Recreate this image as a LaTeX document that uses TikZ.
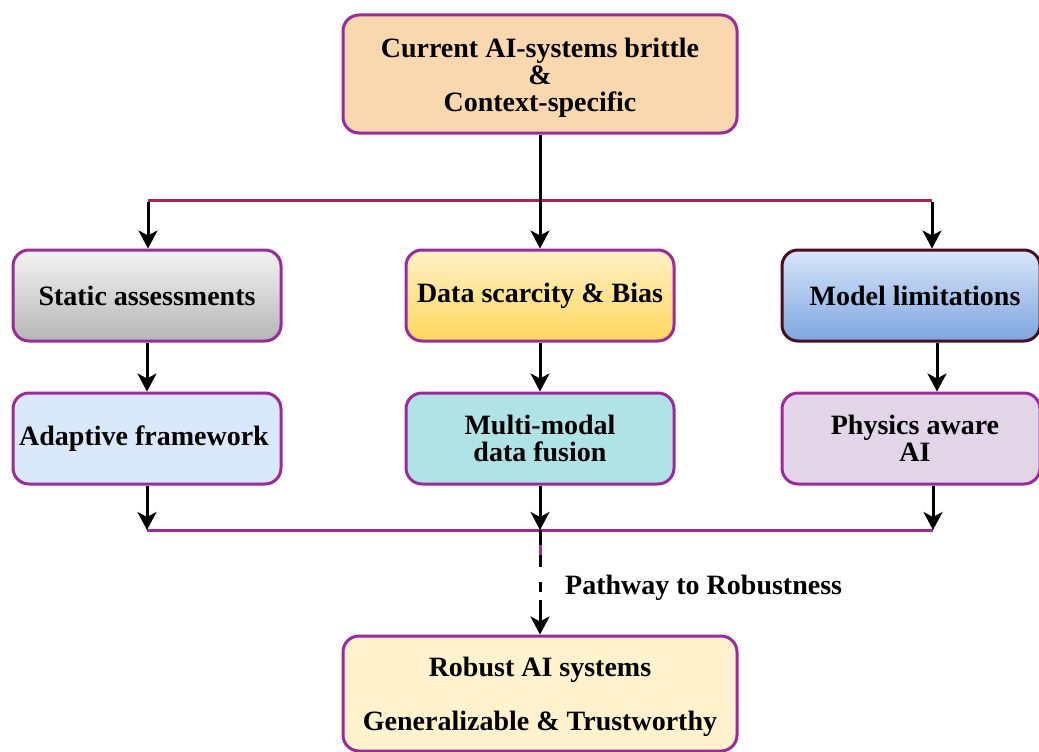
\documentclass[tikz,border=0pt]{standalone}
\usepackage{fontspec}
\setmainfont{Liberation Serif}
\usetikzlibrary{arrows.meta}
\definecolor{pur}{HTML}{9B2A9B}
\definecolor{maroon}{HTML}{A32858}
\definecolor{dkmaroon}{HTML}{4A0F1F}
\definecolor{peach}{HTML}{F9D7AF}
\definecolor{greyT}{HTML}{F4F4F4}
\definecolor{greyB}{HTML}{B5B5B5}
\definecolor{yelT}{HTML}{FFF1C6}
\definecolor{yelB}{HTML}{FFD65E}
\definecolor{bluT}{HTML}{D8E6F9}
\definecolor{bluB}{HTML}{7DA5E0}
\definecolor{ltblue}{HTML}{DAE8FC}
\definecolor{teal2}{HTML}{B0E3E6}
\definecolor{lilac}{HTML}{E1D5E7}
\definecolor{cream}{HTML}{FFF2CC}
\begin{document}
\begin{tikzpicture}[x=1pt,y=-1pt,
  box/.style={draw=pur, line width=3pt, rounded corners=16pt, inner sep=0pt, align=center,
    font=\fontsize{28}{27}\selectfont\bfseries},
  wide/.style={minimum width=394pt},
  mid/.style={minimum width=268pt, minimum height=91pt},
  arr/.style={line width=3pt, -{Stealth[length=18pt,width=19pt,inset=5pt]}},
  hline/.style={line width=3pt},
  lbl/.style={font=\fontsize{28}{27}\selectfont\bfseries}]
\useasboundingbox (0,0) rectangle (1039,752);
% boxes
\node[box, wide, minimum height=118pt, fill=peach] (top) at (540,74) {\rule{0pt}{26pt}Current AI-systems brittle\\\&\\Context-specific};
\node[box, mid, top color=greyT, bottom color=greyB] (l2) at (147,295.5) {Static assessments};
\node[box, mid, top color=yelT, bottom color=yelB] (m2) at (540,295.5) {Data scarcity \& Bias};
\node[box, mid, minimum width=258pt, draw=dkmaroon, top color=bluT, bottom color=bluB] (r2) at (911,295.5) {\hspace*{8pt}Model limitations};
\node[box, mid, fill=ltblue] (l3) at (147,438.5) {\hspace*{-6pt}Adaptive framework};
\node[box, mid, fill=teal2] (m3) at (540,438.5) {Multi-modal\\data fusion};
\node[box, mid, minimum width=258pt, fill=lilac] (r3) at (911,438.5) {\hspace*{8pt}Physics aware\\\hspace*{8pt}AI};
\node[box, wide, minimum height=115pt, fill=cream] (bot) at (540,693.5) {\rule{0pt}{27pt}Robust AI systems\\[27pt]Generalizable \& Trustworthy};
% top distribution
\coordinate (tl) at (148,200);
\coordinate (tr) at (932,200);
\draw[hline, maroon] (tl) -- (tr);
\draw[arr] (top.south) -- (m2.north);
\draw[arr] ([yshift=-2pt]tl) -- (tl |- l2.north);
\draw[arr] ([yshift=-2pt]tr) -- (tr |- r2.north);
% row 2 to row 3
\draw[arr] (l2.south) -- (l3.north);
\draw[arr] (m2.south) -- (m3.north);
\draw[arr] ([xshift=26pt]r2.south) -- ([xshift=26pt]r3.north);
% bottom merge
\coordinate (bl) at (147,530);
\coordinate (bm) at (540,530);
\coordinate (br) at (933,530);
\draw[hline, pur] (bl) -- (br);
\draw[arr] (l3.south) -- (bl);
\draw[arr] (m3.south) -- (bm);
\draw[arr] ([xshift=22pt]r3.south) -- (br);
% pathway
\coordinate (d1) at (540,545);
\coordinate (d2) at (540,555);
\draw[line width=3pt] (bm) -- (d1);
\draw[line width=3pt, pur] (d1) -- (d2);
\draw[arr, dash pattern=on 12pt off 15pt on 10pt off 8pt on 90pt] (d2) -- (bot.north);
\node[lbl, anchor=west, inner sep=0pt] (lab) at (565,588) {Pathway to Robustness};
\end{tikzpicture}
\end{document}
